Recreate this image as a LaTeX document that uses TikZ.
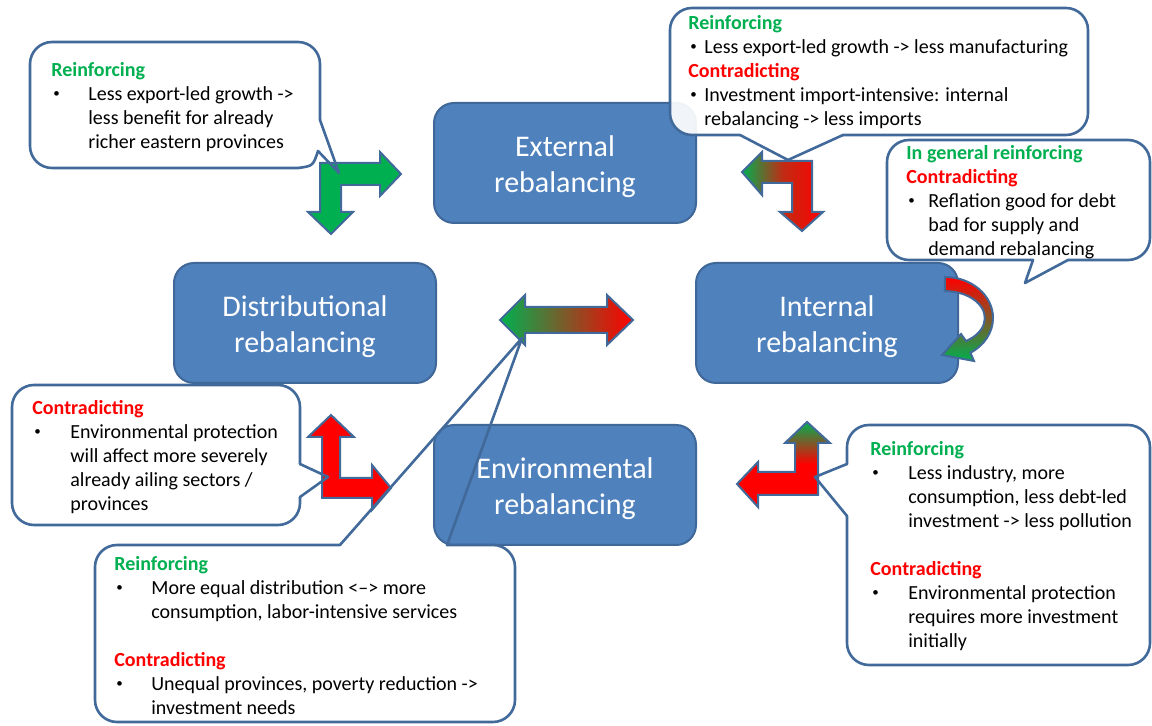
\documentclass[tikz,border=0pt]{standalone}
\usepackage{fontspec}
\setmainfont{Carlito}
\definecolor{boxfill}{HTML}{4F81BD}
\definecolor{boxedge}{HTML}{3F6797}
\definecolor{edgeblue}{HTML}{41699A}
\definecolor{rgreen}{HTML}{00B050}
\definecolor{cred}{HTML}{FF0000}
\newcommand{\reinf}{\textcolor{rgreen}{\bfseries Reinforcing}}
\newcommand{\contra}{\textcolor{cred}{\bfseries Contradicting}}
\newcommand{\bl}[1]{\makebox[#1][l]{\hspace{1pt}\raisebox{1.3pt}{\fontsize{6.5}{6.5}\selectfont\textbullet}}}

\begin{document}
\begin{tikzpicture}[x=0.5pt, y=-0.5pt]
	\tikzset{box/.style={draw=boxedge, fill=boxfill, line width=1pt, rounded corners=10pt, minimum width=131pt, minimum height=60pt, text=white, align=center, font=\fontsize{15}{18}\selectfont}}
	\tikzset{blockarrow/.style={draw=edgeblue, line width=1pt, line join=miter}}
	\tikzset{callout/.style={draw=edgeblue, line width=1.3pt, rounded corners=11pt, line cap=round, line join=round}}
	\tikzset{tail/.style={draw=edgeblue, line width=1.3pt, line cap=round, line join=round}}
	\tikzset{bodyfill/.style={fill=white, fill opacity=0.92, rounded corners=11pt}}
	\tikzset{calltext/.style={anchor=north west, inner sep=0pt, align=left, font=\fontsize{10}{12}\selectfont}}
		\useasboundingbox (0,0) rectangle (1152,726);
		\foreach \name/\x/\y/\tag in {ext/565/163/External, dist/305/323/Distributional, int/827/323/Internal, env/565/485/Environmental}
		{\node[box] (\name) at (\x,\y) {\rule{0pt}{14.5pt}\tag\\rebalancing};}
		% block arrows
		\draw[blockarrow, fill=rgreen] (320,163) -- (380,163) -- (380,152) -- (401,174) -- (380,196) -- (380,185) -- (341,185) -- (341,212) -- (353,212) -- (331,234) -- (308,212) -- (320,212) -- cycle;
		\draw[blockarrow, left color=rgreen, right color=cred, middle color=cred!75!rgreen] (812,161) -- (762,161) -- (762,152) -- (742,172) -- (762,195) -- (762,183) -- (792,183) -- (792,212) -- (780,212) -- (802,231) -- (823,212) -- (812,212) -- cycle;
		\draw[blockarrow, left color=rgreen, right color=cred] (500,320) -- (525,295) -- (525,307) -- (607,307) -- (607,295) -- (633,320) -- (607,345) -- (607,333) -- (525,333) -- (525,345) -- cycle;
		\draw[blockarrow, fill=cred] (322,498) -- (322,437) -- (308,437) -- (331,415) -- (354,437) -- (340,437) -- (340,478) -- (372,478) -- (372,465) -- (391,488) -- (372,510) -- (372,498) -- cycle;
		\draw[blockarrow, top color=rgreen, bottom color=cred, middle color=cred] (818,495) -- (818,443) -- (830,443) -- (807,422) -- (785,443) -- (795,443) -- (795,472) -- (758,472) -- (758,462) -- (737,484) -- (758,507) -- (758,495) -- cycle;
		\draw[blockarrow, top color=cred, bottom color=rgreen] (945,277) arc[start angle=-90, end angle=58, x radius=48, y radius=41] -- (974,361) -- (942,355) -- (961,334) -- (966,341) arc[start angle=58, end angle=-90, x radius=40, y radius=27] -- cycle;
		% callouts
		\fill[bodyfill] (30,42) rectangle (320,168);
		\draw[callout] (298,168) -- (30,168) -- (30,42) -- (320,42) -- (320,120);
		\draw[tail] (320,120) -- (339,173) -- (318,151) .. controls (313,166) .. (298,168);
		\fill[bodyfill] (670,8) rectangle (1088,135);
		\draw[callout] (740,135) -- (670,135) -- (670,8) -- (1088,8) -- (1088,135) -- (843,135);
		\draw[tail] (843,135) -- (788,160) -- (740,135);
		\fill[bodyfill] (887,140) rectangle (1150,260);
		\draw[callout] (1068,260) -- (1150,260) -- (1150,140) -- (887,140) -- (887,260) -- (1033,260);
		\draw[tail] (1033,260) -- (1025,283) -- (1068,260);
		\fill[bodyfill] (12,385) rectangle (300,525);
		\draw[callout] (300,497) -- (300,525) -- (12,525) -- (12,385) -- (300,385) -- (300,464);
		\draw[tail] (300,464) -- (328,477) -- (300,497);
		\fill[bodyfill] (847,425) rectangle (1150,665);
		\draw[callout] (847,464) -- (847,425) -- (1150,425) -- (1150,665) -- (847,665) -- (847,516);
		\draw[tail] (847,516) -- (815,477) -- (847,464);
		\fill[bodyfill] (95,545) rectangle (515,722);
		\draw[callout] (447,545) -- (515,545) -- (515,722) -- (95,722) -- (95,545) -- (340,545);
		\draw[tail] (340,545) -- (522,338) -- (447,545);
		% texts
		\node[calltext] (t_distext) at (51,62) {\reinf\\ \bl{18.5pt}Less export-led growth ->\\ \hspace*{18.5pt}less benefit for already\\ \hspace*{18.5pt}richer eastern provinces};
		\node[calltext] (t_extint) at (688,15) {\reinf\\ \bl{8pt}Less export-led growth -> less manufacturing\\ \contra\\ \bl{8pt}Investment import-intensive: internal\\ \hspace*{8pt}rebalancing -> less imports};
		\node[calltext] (t_intint) at (906,145) {\textcolor{rgreen}{\bfseries In general reinforcing}\\ \contra\\ \bl{11pt}Reflation good for debt\\ \hspace*{11pt}bad for supply and\\ \hspace*{11pt}demand rebalancing};
		\node[calltext] (t_disenv) at (32,400) {\contra\\ \bl{19pt}Environmental protection\\ \hspace*{19pt}will affect more severely\\ \hspace*{19pt}already ailing sectors /\\ \hspace*{19pt}provinces};
		\node[calltext] (t_envint) at (870,441) {\reinf\\ \bl{19pt}Less industry, more\\ \hspace*{19pt}consumption, less debt-led\\ \hspace*{19pt}investment -> less pollution\\[12pt] \contra\\ \bl{19pt}Environmental protection\\ \hspace*{19pt}requires more investment\\ \hspace*{19pt}initially};
		\node[calltext] (t_disint) at (114,556) {\reinf\\ \bl{18.5pt}More equal distribution <–> more\\ \hspace*{18.5pt}consumption, labor-intensive services\\[12pt] \contra\\ \bl{18.5pt}Unequal provinces, poverty reduction ->\\ \hspace*{18.5pt}investment needs};
	\end{tikzpicture}
\end{document}
